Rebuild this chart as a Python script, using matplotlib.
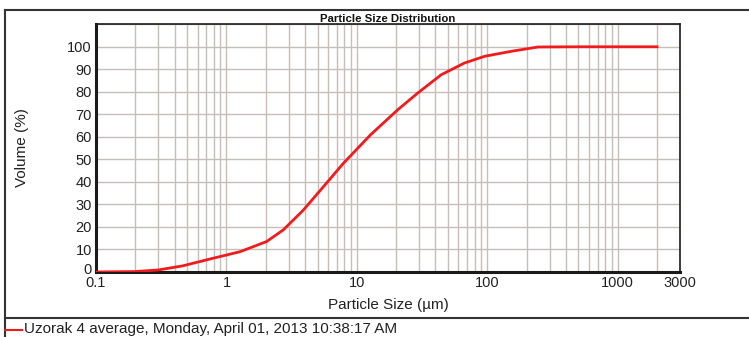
import numpy as np
import matplotlib
matplotlib.use("Agg")
import matplotlib.pyplot as plt
import matplotlib.transforms as mtransforms
from matplotlib.lines import Line2D

plt.rcParams['font.family'] = ['Liberation Sans', 'DejaVu Sans']

# cumulative volume curve (size in um, volume in %)
size_um = [0.1, 0.2, 0.3, 0.46, 0.79, 1.27, 2.03, 2.73, 3.89, 5.55, 7.9,
           10.0, 12.8, 20.6, 29.3, 44.3, 66.8, 95.6, 153.0, 245.0, 500.0,
           1000.0, 2000.0]
volume_pct = [0.0, 0.2, 0.9, 2.7, 6.1, 9.0, 13.5, 18.7, 27.5, 37.9, 48.3,
              54.5, 61.0, 72.0, 79.4, 87.5, 92.7, 95.7, 97.9, 99.8, 99.9,
              99.9, 99.9]

x_ticks = [0.1, 1, 10, 100, 1000, 3000]
x_ticklabels = ['0.1', '1', '10', '100', '1000', '3000']
y_ticks = [0, 10, 20, 30, 40, 50, 60, 70, 80, 90, 100]

legend_text = 'Uzorak 4 average, Monday, April 01, 2013 10:38:17 AM'

fig = plt.figure(figsize=(7.49, 3.37), dpi=100)
ax = fig.add_axes([96 / 749, 65 / 337, 584 / 749, 248 / 337])

ax.set_xscale('log')
ax.set_xlim(0.1, 3000)
ax.set_ylim(0, 110)

# grid: every minor decade step vertically, every 10 % horizontally
grid_col = '#c9bdb9'
minor = [m * 10.0 ** e for e in range(-1, 4) for m in range(1, 10)]
for v in minor:
    if 0.1 < v < 3000:
        ax.axvline(v, color=grid_col, lw=1.0, zorder=1)
for v in y_ticks[1:] + [110]:
    ax.axhline(v, color=grid_col, lw=1.0, zorder=1)

ax.plot(size_um, volume_pct, color='#f01c1c', lw=2.0, zorder=3,
        solid_joinstyle='round')

ax.set_xticks(x_ticks)
ax.set_xticklabels(x_ticklabels)
ax.xaxis.set_minor_locator(matplotlib.ticker.NullLocator())
ax.set_yticks(y_ticks)
ax.tick_params(length=0, labelsize=10.5, colors='#222222', pad=3)
for s in ax.spines.values():
    s.set_color('#1a1a1a')
    s.set_linewidth(1.2)
ax.spines['left'].set_linewidth(2.2)
ax.spines['bottom'].set_linewidth(2.2)

# lift the "0" label a little so it clears "0.1"
zero_lbl = ax.get_yticklabels()[0]
zero_lbl.set_transform(zero_lbl.get_transform() +
                       mtransforms.ScaledTranslation(0, 4 / 100, fig.dpi_scale_trans))

ax.set_xlabel('Particle Size (µm)', fontsize=11, color='#222222', labelpad=6)
ax.set_ylabel('Volume (%)', fontsize=11, color='#222222')
ax.yaxis.set_label_coords(-0.115, 0.5)
ax.set_title('Particle Size Distribution', fontsize=8.2, fontweight='bold',
             color='#111111', pad=1)

# outer frame and legend strip
frame_col = '#333333'
fig.add_artist(Line2D([5 / 749, 1.0], [1 - 10 / 337, 1 - 10 / 337],
                      transform=fig.transFigure, color=frame_col, lw=1.5))
fig.add_artist(Line2D([5 / 749, 5 / 749], [0.0, 1 - 10 / 337],
                      transform=fig.transFigure, color=frame_col, lw=1.5))
fig.add_artist(Line2D([5 / 749, 1.0], [1 - 318 / 337, 1 - 318 / 337],
                      transform=fig.transFigure, color=frame_col, lw=1.5))
fig.add_artist(Line2D([5 / 749, 22 / 749], [1 - 330 / 337, 1 - 330 / 337],
                      transform=fig.transFigure, color='#f01c1c', lw=1.5))
fig.text(24 / 749, 1 - 329 / 337, legend_text, fontsize=11, color='#222222',
         va='center', ha='left')

fig.savefig('out.png', dpi=100)
